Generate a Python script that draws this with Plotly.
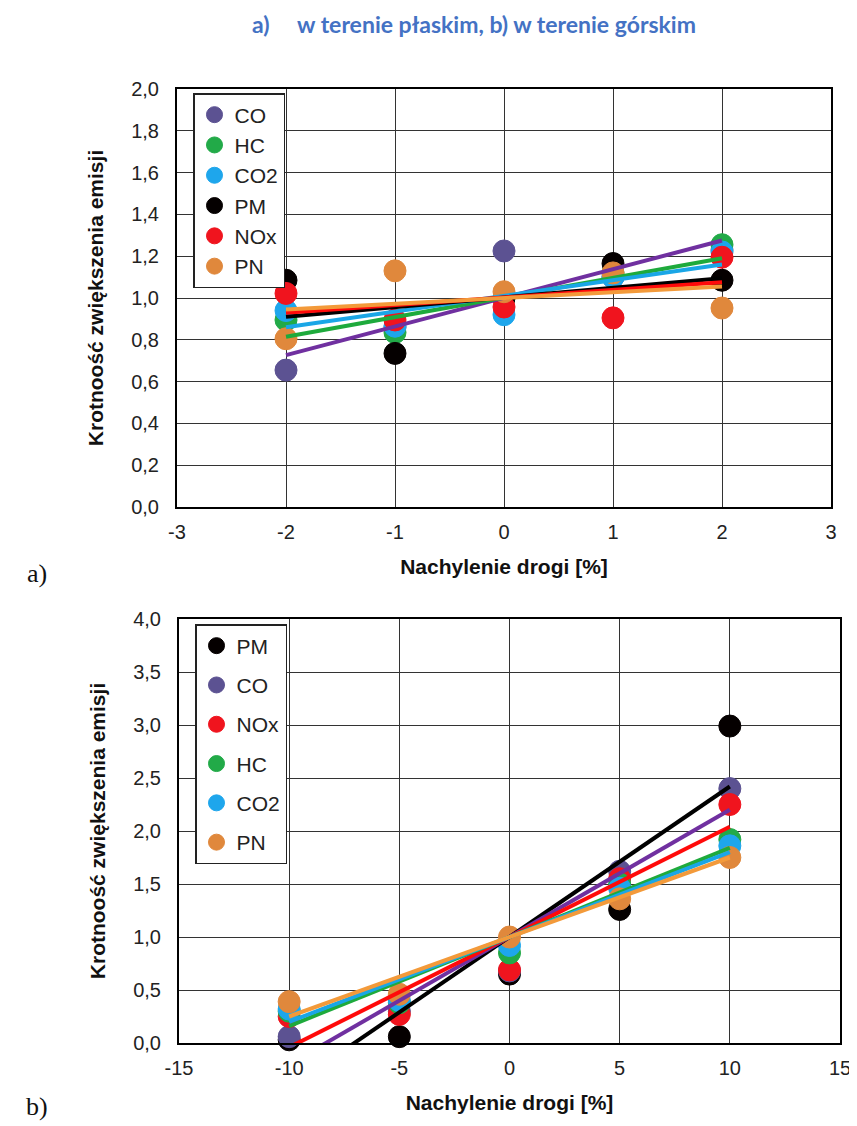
import plotly.graph_objects as go

# ---------------- data: panel a) flat terrain ----------------
a_x = [-2, -1, 0, 1, 2]
a_names = ["CO", "HC", "CO2", "PM", "NOx", "PN"]
a_CO = [0.655, 0.86, 1.225, 1.10, 1.23]
a_HC = [0.895, 0.835, 1.0, 1.12, 1.255]
a_CO2 = [0.94, 0.865, 0.92, 1.10, 1.22]
a_PM = [1.085, 0.735, 1.0, 1.165, 1.085]
a_NOx = [1.022, 0.895, 0.957, 0.905, 1.195]
a_PN = [0.805, 1.13, 1.03, 1.12, 0.952]
# trend lines (value at x=-2 and x=2)
a_trend_x = [-2, 2]
a_trend_CO = [0.727, 1.275]
a_trend_HC = [0.815, 1.19]
a_trend_CO2 = [0.86, 1.16]
a_trend_PM = [0.91, 1.095]
a_trend_NOx = [0.93, 1.075]
a_trend_PN = [0.945, 1.055]
a_xticks = [-3, -2, -1, 0, 1, 2, 3]
a_xticklabels = ["-3", "-2", "-1", "0", "1", "2", "3"]

# ---------------- data: panel b) mountain terrain ----------------
b_x = [-10, -5, 0, 5, 10]
b_names = ["PM", "CO", "NOx", "HC", "CO2", "PN"]
b_PM = [0.03, 0.06, 0.65, 1.26, 2.99]
b_CO = [0.06, 0.30, 0.68, 1.62, 2.40]
b_NOx = [0.25, 0.27, 0.69, 1.55, 2.25]
b_HC = [0.30, 0.38, 0.85, 1.50, 1.92]
b_CO2 = [0.32, 0.40, 0.92, 1.46, 1.86]
b_PN = [0.39, 0.46, 1.0, 1.36, 1.75]
b_trend_x = [-10, 10]
b_trend_PM = [-0.42, 2.42]
b_trend_CO = [-0.20, 2.20]
b_trend_NOx = [-0.04, 2.04]
b_trend_HC = [0.16, 1.84]
b_trend_CO2 = [0.20, 1.80]
b_trend_PN = [0.25, 1.75]
b_xticks = [-15, -10, -5, 0, 5, 10, 15]
b_xticklabels = ["-15", "-10", "-5", "0", "5", "10", "15"]

title_text = "a)&nbsp;&nbsp;&nbsp;&nbsp;&nbsp;w terenie płaskim, b) w terenie górskim"
x_title = "Nachylenie drogi [%]"
y_title = "Krotnoość zwiększenia emisji"

marker_col = {"CO": "#5C5292", "HC": "#22AA48", "CO2": "#1EA6EC",
              "PM": "#050000", "NOx": "#F0141E", "PN": "#E0883C"}
line_col = {"CO": "#7030A0", "HC": "#1EAA3C", "CO2": "#1AA6E6",
            "PM": "#000000", "NOx": "#FF0A0A", "PN": "#F39A3A"}

# page has an 8px body margin: figure is 8px smaller and positions are shifted
OFF = 8
W, H = 857 - OFF, 1126 - OFF


def fx(px):
    return (px - OFF) / W


def fy(py):
    return 1 - (py - OFF) / H


fig = go.Figure()

a_vals = {"CO": a_CO, "HC": a_HC, "CO2": a_CO2, "PM": a_PM, "NOx": a_NOx, "PN": a_PN}
a_tr = {"CO": a_trend_CO, "HC": a_trend_HC, "CO2": a_trend_CO2, "PM": a_trend_PM,
        "NOx": a_trend_NOx, "PN": a_trend_PN}
b_vals = {"PM": b_PM, "CO": b_CO, "NOx": b_NOx, "HC": b_HC, "CO2": b_CO2, "PN": b_PN}
b_tr = {"PM": b_trend_PM, "CO": b_trend_CO, "NOx": b_trend_NOx, "HC": b_trend_HC,
        "CO2": b_trend_CO2, "PN": b_trend_PN}

for n in a_names:
    fig.add_trace(go.Scatter(x=a_x, y=a_vals[n], mode="markers", name=n,
                             marker=dict(size=22, color=marker_col[n],
                                         line=dict(width=1, color=marker_col[n])),
                             cliponaxis=False, legend="legend", legendgroup="a" + n,
                             xaxis="x", yaxis="y"))
for n in a_names:
    fig.add_trace(go.Scatter(x=a_trend_x, y=a_tr[n], mode="lines", showlegend=False,
                             line=dict(color=line_col[n], width=4),
                             xaxis="x", yaxis="y"))

for n in b_names:
    fig.add_trace(go.Scatter(x=b_x, y=b_vals[n], mode="markers", name=n,
                             marker=dict(size=22, color=marker_col[n],
                                         line=dict(width=1, color=marker_col[n])),
                             cliponaxis=False, legend="legend2", legendgroup="b" + n,
                             xaxis="x2", yaxis="y2"))
for n in b_names:
    fig.add_trace(go.Scatter(x=b_trend_x, y=b_tr[n], mode="lines", showlegend=False,
                             line=dict(color=line_col[n], width=4),
                             xaxis="x2", yaxis="y2"))

FONT = "Liberation Sans, Arial, sans-serif"
tick_font = dict(family=FONT, size=20, color="#222")
title_font = dict(family=FONT, size=21, color="#111")
grid = dict(showgrid=True, gridcolor="#333", gridwidth=1.2, zeroline=False,
            showline=True, linecolor="#000", linewidth=2, mirror=True,
            tickfont=tick_font, ticks="", automargin=False)

fig.update_layout(
    template="none",
    width=W, height=H, margin=dict(l=0, r=0, t=0, b=0, autoexpand=False),
    paper_bgcolor="white", plot_bgcolor="white",
    separators=", ",
    showlegend=True,
    xaxis=dict(domain=[fx(177), fx(831)], anchor="y", range=[-3, 3],
               tickvals=a_xticks, ticktext=a_xticklabels, ticklabelstandoff=6,
               title=dict(text="<b>" + x_title + "</b>", font=title_font, standoff=17),
               **grid),
    yaxis=dict(domain=[fy(507), fy(89)], anchor="x", range=[0, 2], dtick=0.2,
               tick0=0, tickformat=".1f", ticklabelstandoff=12,
               title=dict(text="<b>" + y_title + "</b>", font=title_font, standoff=22),
               **grid),
    xaxis2=dict(domain=[fx(179), fx(840)], anchor="y2", range=[-15, 15],
                tickvals=b_xticks, ticktext=b_xticklabels, ticklabelstandoff=6,
                title=dict(text="<b>" + x_title + "</b>", font=title_font, standoff=17),
                **grid),
    yaxis2=dict(domain=[fy(1043), fy(619)], anchor="x2", range=[0, 4], dtick=0.5,
                tick0=0, tickformat=".1f", ticklabelstandoff=12,
                title=dict(text="<b>" + y_title + "</b>", font=title_font, standoff=22),
                **grid),
    legend=dict(x=fx(193), y=fy(93), xanchor="left", yanchor="top",
                bgcolor="white", bordercolor="#222", borderwidth=1.5,
                font=dict(family=FONT, size=21, color="#222"),
                traceorder="grouped", tracegroupgap=0, itemwidth=30),
    legend2=dict(x=fx(195), y=fy(624), xanchor="left", yanchor="top",
                 bgcolor="white", bordercolor="#222", borderwidth=1.5,
                 font=dict(family=FONT, size=21, color="#222"),
                 traceorder="grouped", tracegroupgap=9, itemwidth=30),
    annotations=[
        dict(text="<b>" + title_text + "</b>", xref="paper", yref="paper",
             x=fx(474), y=fy(24), showarrow=False, xanchor="center", yanchor="middle",
             font=dict(family="Lato, Open Sans", size=23, color="#4472C4")),
        dict(text="a)", xref="paper", yref="paper", x=fx(37), y=fy(573),
             showarrow=False, xanchor="center", yanchor="middle",
             font=dict(family="Liberation Serif, Times New Roman", size=26, color="#111")),
        dict(text="b)", xref="paper", yref="paper", x=fx(37), y=fy(1106),
             showarrow=False, xanchor="center", yanchor="middle",
             font=dict(family="Liberation Serif, Times New Roman", size=26, color="#111")),
    ],
)

fig.write_html("out.html")
